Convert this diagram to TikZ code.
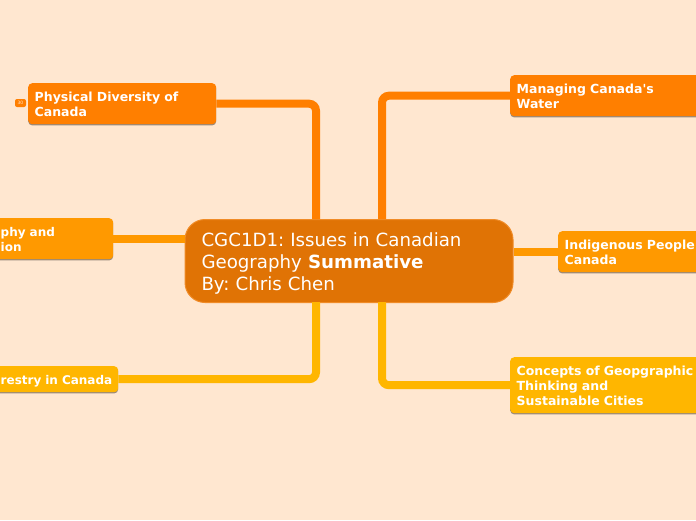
\documentclass[tikz,border=0pt]{standalone}
\usepackage{fontspec}
\setmainfont{DejaVu Sans}
\usetikzlibrary{shadows}
\definecolor{paper}{HTML}{FFE7D0}
\definecolor{rootfill}{HTML}{E07305}
\definecolor{rootline}{HTML}{F08C28}
\definecolor{topicA}{HTML}{FF7F00}
\definecolor{topicB}{HTML}{FF9900}
\definecolor{topicC}{HTML}{FFB600}
\frenchspacing

\begin{document}
\begin{tikzpicture}[x=1pt, y=-1pt,
	topic/.style={anchor=north west, rounded corners=4pt, inner xsep=6.5pt, inner ysep=0pt, align=left, text=white,
		font=\fontsize{12.5}{15}\selectfont\bfseries,
		drop shadow={shadow xshift=0pt, shadow yshift=-1.2pt, fill=black, opacity=.4}},
	link/.style={line width=8pt, rounded corners=7pt}]
	\useasboundingbox (0,0) rectangle (696,520);
	\clip (0,0) rectangle (696,520);
	\fill[paper] (0,0) rectangle (696,520);
	% centre
	\node[anchor=north west, draw=rootline, fill=rootfill, line width=1pt, rounded corners=20pt, minimum width=328pt, minimum height=83pt, inner xsep=16.5pt, inner ysep=0pt, text width=295pt, align=left, text=white, font=\fontsize{18.2}{22}\selectfont] (root) at (184.5,219) {\rule{0pt}{19.5pt}CGC1D1: Issues in Canadian\\Geography \textbf{Summative}\\By: Chris Chen};
	% left side
	\node[topic, fill=topicA, text width=175pt, minimum height=41pt] (physical) at (28,83) {\rule{0pt}{11.5pt}Physical Diversity of\\Canada};
	\node[topic, fill=topicB, text width=106pt, minimum height=41pt, font=\fontsize{12}{15}\selectfont\bfseries] (population) at (-6,218) {\rule{0pt}{11.5pt}phy and\\ion};
	\node[topic, fill=topicC, text width=111pt, minimum height=26pt, font=\fontsize{12}{15}\selectfont\bfseries] (forestry) at (-6,366) {\rule{0pt}{12.5pt}\mbox{restry in Canada}};
	% right side
	\node[topic, fill=topicA, text width=177pt, minimum height=41pt] (water) at (510,75) {\rule{0pt}{11.5pt}Managing Canada\textquotesingle s\\Water};
	\node[topic, fill=topicB, text width=150pt, minimum height=41pt] (indigenous) at (558,231) {\rule{0pt}{11.5pt}Indigenous People\\Canada};
	\node[topic, fill=topicC, text width=177pt, minimum height=56pt] (cities) at (510,357) {\rule{0pt}{11.5pt}Concepts of Geopgraphic\\Thinking and\\Sustainable Cities};
	% tag
	\node[anchor=center, fill=topicA, rounded corners=2pt, minimum width=11pt, minimum height=8pt, inner sep=0pt, text=white!80!topicA, font=\fontsize{4.5}{5}\selectfont] (count) at (20.5,103) {30};
	% connectors
	\coordinate (rootA) at (316,219);
	\coordinate (rootB) at (382,219);
	\coordinate (rootC) at (316,302);
	\coordinate (rootD) at (382,302);
	\draw[link, topicA] (physical.east) -| (rootA);
	\draw[link, topicA] (water.west) -| (rootB);
	\draw[link, topicB] (population.east) -- (population.east -| root.west);
	\draw[link, topicB] (indigenous.west) -- (indigenous.west -| root.east);
	\draw[link, topicC] (forestry.east) -| (rootC);
	\draw[link, topicC] (cities.west) -| (rootD);
\end{tikzpicture}
\end{document}
